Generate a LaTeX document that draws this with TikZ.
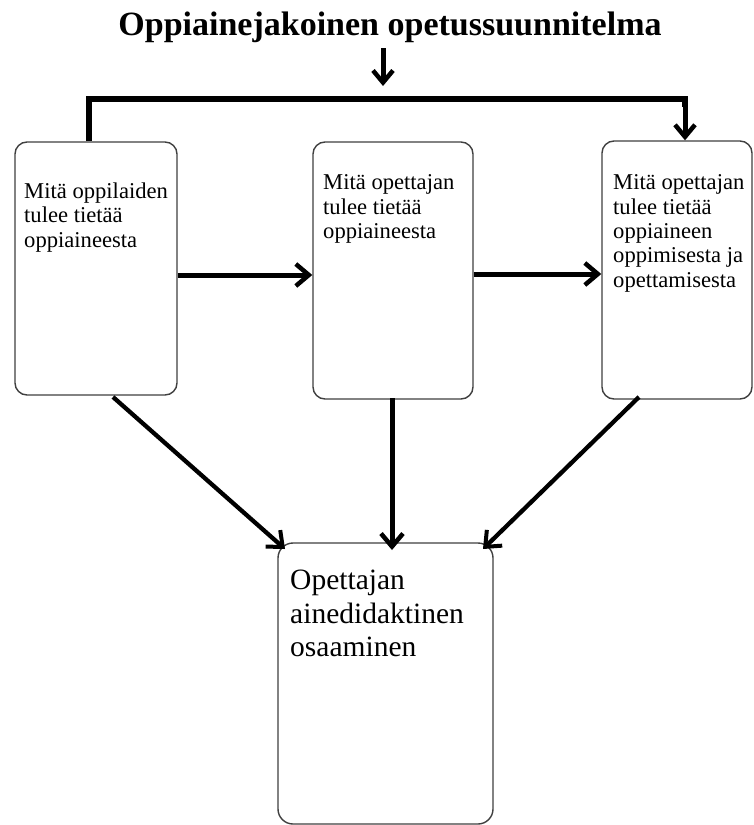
\documentclass[tikz,border=0pt]{standalone}
\usepackage{fontspec}
\setmainfont{Liberation Serif}
\usetikzlibrary{arrows.meta}
\begin{document}
\begin{tikzpicture}[x=1pt,y=-1pt,
  box/.style={draw=black!75, line width=1.4pt, rounded corners=12pt, inner sep=0pt, fill=white},
  boxtext/.style={anchor=north west, inner sep=0pt, align=left, text=black},
  small/.style={font=\fontsize{22.6}{24.4}\selectfont},
  large/.style={font=\fontsize{29.5}{33.5}\selectfont},
  conn/.style={line width=5pt, -{Straight Barb[length=13pt,width=22pt,line width=4.5pt]}},
  diag/.style={line width=4.3pt, -{Straight Barb[length=13pt,width=22pt,line width=4pt]}},
  bracket/.style={line width=5.5pt}
]
\useasboundingbox (0,0) rectangle (754,825);
\fill[white] (0,0) rectangle (754,825);

% title
\node[anchor=base, inner sep=0pt, font=\fontsize{34}{38}\selectfont\bfseries] (title) at (390,35) {Oppiainejakoinen opetussuunnitelma};

% boxes
\node[box, minimum width=162pt, minimum height=253pt] (b1) at (96,268.5) {};
\node[box, minimum width=160pt, minimum height=257pt] (b2) at (393,270.5) {};
\node[box, minimum width=150pt, minimum height=258pt] (b3) at (677,270) {};
\node[box, rounded corners=15pt, minimum width=215pt, minimum height=281pt] (b4) at (385.5,683.5) {};

% texts
\node[boxtext, small] (t1) at (24,182.6) {Mitä oppilaiden\\tulee tietää\\oppiaineesta};
\node[boxtext, small] (t2) at (323,174.6) {Mitä opettajan\\tulee tietää\\oppiaineesta};
\node[boxtext, small] (t3) at (613,174.6) {Mitä opettajan\\tulee tietää\\oppiaineen\\oppimisesta ja\\opettamisesta};
\node[boxtext, large] (t4) at (290,570) {Opettajan\\ainedidaktinen\\osaaminen};

% top connectors
\coordinate (ts) at (383,48);
\coordinate (te) at (383,86);
\draw[line width=5pt, -{Straight Barb[length=12pt,width=20pt,line width=4.5pt]}] (ts) -- (te);
\coordinate (hl) at (89,99);
\coordinate (hr) at (685,99);
\draw[bracket, line cap=butt] (b1.north -| hl) -- (hl) -- (hr) -- ++(0,8);
\draw[line width=5pt, -{Straight Barb[length=12pt,width=20pt,line width=4.5pt]}] (685,97) -- (b3.north -| hr);

% horizontal arrows
\draw[conn] (b1.east |- 0,275) -- (b2.west |- 0,275);
\draw[conn] (b2.east |- 0,274) -- (b3.west |- 0,274);

% arrows to bottom box
\coordinate (s1) at (113,397);
\coordinate (e1) at (285,549);
\coordinate (s2) at (392,398);
\coordinate (e2) at (392,550);
\coordinate (s3) at (639,397);
\coordinate (e3) at (483,549);
\draw[diag] (s1) -- (e1);
\draw[conn] (s2) -- (e2);
\draw[diag] (s3) -- (e3);
\end{tikzpicture}
\end{document}
